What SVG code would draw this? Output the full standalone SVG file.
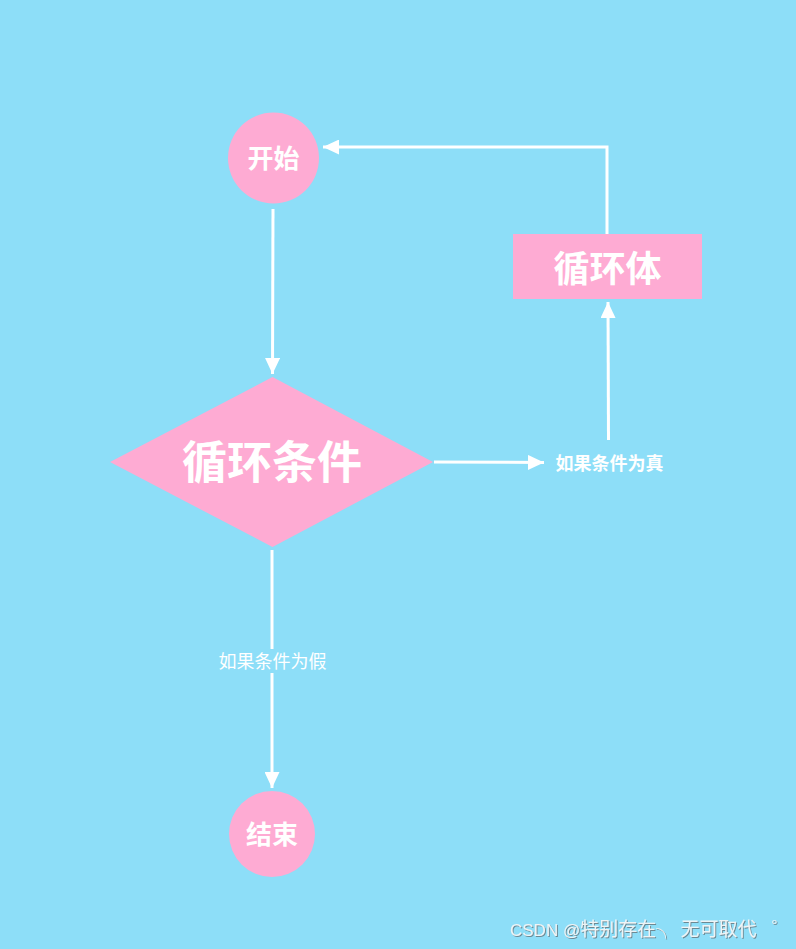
<svg xmlns="http://www.w3.org/2000/svg" width="796" height="949" viewBox="0 0 796 949">
<style>
.node{fill:#feabd3;}
.t{fill:#ffffff;font-family:"Noto Sans CJK SC","Noto Sans",sans-serif;font-weight:bold;text-anchor:middle;dominant-baseline:central;}
.e{fill:none;stroke:#ffffff;stroke-width:3;}
.lbl{fill:#ffffff;font-family:"Noto Sans CJK SC","Noto Sans",sans-serif;font-size:18px;text-anchor:middle;dominant-baseline:central;}
.wm{fill:#eef4f6;font-family:"Liberation Sans","Noto Sans CJK SC",sans-serif;font-size:19px;}
</style>
<defs>
<marker id="ah" markerWidth="16" markerHeight="15" refX="16" refY="7.5" orient="auto" markerUnits="userSpaceOnUse">
<path d="M0,0 L16,7.5 L0,15 Z" fill="#ffffff"/>
</marker>
<filter id="sh" x="-5%" y="-30%" width="110%" height="160%">
<feDropShadow dx="1" dy="1" stdDeviation="0.6" flood-color="#6a7f88" flood-opacity="0.9"/>
</filter>
</defs>
<rect width="796" height="949" fill="#8ddef8"/>
<g id="edges">
<path class="e" d="M273,209 L272.5,374" marker-end="url(#ah)"/>
<path class="e" d="M434,462 L544,462.5" marker-end="url(#ah)"/>
<path class="e" d="M608.5,440 L608,302" marker-end="url(#ah)"/>
<path class="e" d="M607,234 L607,147 L323,147" marker-end="url(#ah)"/>
<path class="e" d="M272,550 L272,649"/>
<path class="e" d="M272,673 L272,788" marker-end="url(#ah)"/>
<text class="lbl" x="272.5" y="660">如果条件为假</text>
<text class="lbl" x="609.5" y="461.5" style="font-weight:bold">如果条件为真</text>
</g>
<g id="start">
<circle class="node" cx="273.5" cy="158" r="45.5"/>
<text class="t" x="273.5" y="156.5" font-size="26">开始</text>
</g>
<g id="cond">
<polygon class="node" points="272.5,377 433,462 272.5,547 110,462"/>
<text class="t" x="272" y="459.5" font-size="45">循环条件</text>
</g>
<g id="body">
<rect class="node" x="513" y="234" width="189" height="65"/>
<text class="t" x="607.5" y="265.5" font-size="36">循环体</text>
</g>
<g id="end">
<circle class="node" cx="272" cy="834" r="43"/>
<text class="t" x="272" y="832.5" font-size="26">结束</text>
</g>
<text class="wm" x="510" y="936" filter="url(#sh)"><tspan font-size="17">CSDN @</tspan>特别存在╮ 无可取代 <tspan dx="10">゜</tspan></text>
</svg>
